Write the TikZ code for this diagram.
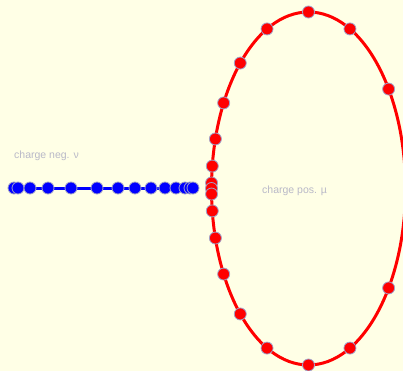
\documentclass[tikz,border=0pt]{standalone}
\usepackage{fontspec}
\setmainfont{Liberation Sans}
\definecolor{bgc}{RGB}{255,255,230}
\definecolor{dotedge}{RGB}{160,160,200}
\definecolor{lbl}{RGB}{185,185,200}
\tikzset{
  reddot/.style={circle,fill=red,draw=dotedge,line width=0.8bp,minimum size=12bp,inner sep=0pt},
  bluedot/.style={circle,fill=blue,draw=dotedge,line width=0.8bp,minimum size=12bp,inner sep=0pt},
  lab/.style={text=lbl,font=\fontsize{10.5bp}{12bp}\selectfont,inner sep=0pt,anchor=base west}
}
\begin{document}
\begin{tikzpicture}[x=1bp,y=-1bp]
\useasboundingbox (0,0) rectangle (403,371);
\fill[bgc] (0,0) rectangle (403,371);
\begin{scope}
\clip (0,0) rectangle (403,371);
\coordinate (ec) at (308.5,188.5);
\draw[red,line width=3bp] (ec) ellipse [x radius=97, y radius=176.5];
\node[lab] (tneg) at (14,158) {charge neg. ν};
\node[lab] (tpos) at (262,193) {charge pos. µ};
% blue charges
\coordinate (bl) at (14,188);
\coordinate (br) at (193,188);
\draw[blue,line width=3bp] (bl) -- (br);
\foreach \x [count=\i] in {14,18,30,48,71,97,118,135,151,165,176,185,190,193}
  \node[bluedot] (b\i) at (\x,188) {};
% red charges
\foreach \a [count=\i] in {90,115.3,134.7,151,163.7,172.7,178.2,180,181.8,187.3,196.3,209,225.3,244.7,270,295.3,325.7,34.3,64.7}
  \node[reddot] (r\i) at ({308.5+97*cos(\a)},{188.5-176.5*sin(\a)}) {};
\end{scope}
\end{tikzpicture}
\end{document}
